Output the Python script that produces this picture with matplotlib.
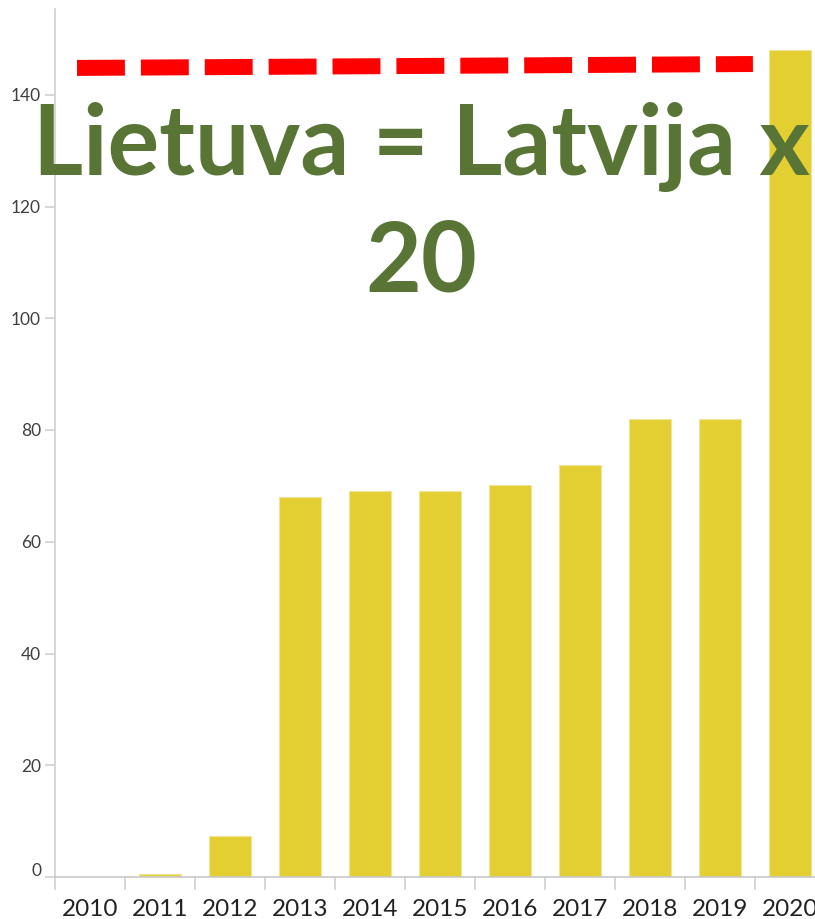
import matplotlib
matplotlib.use("Agg")
import matplotlib.pyplot as plt
import matplotlib.transforms as mtransforms
import numpy as np

years = ["2010", "2011", "2012", "2013", "2014", "2015", "2016", "2017", "2018", "2019", "2020"]
values = [0, 0.5, 7.4, 68.0, 69.1, 69.1, 70.1, 73.7, 82.0, 82.0, 148.0]
yticks = [0, 20, 40, 60, 80, 100, 120, 140]
line_x = [-0.186, 9.47]
line_y = [144.8, 145.5]
title = "Lietuva = Latvija x\n20"

W, H = 815, 919
fig = plt.figure(figsize=(W / 100, H / 100), dpi=100)
ax = fig.add_axes([55 / W, 42 / H, 770 / W, (877 - 9) / H])

x = np.arange(len(years))
ax.bar(x, values, width=0.59, color="#E4CF33", edgecolor="#EFE39A", linewidth=0.8, zorder=2)

ax.plot(line_x, line_y, color="#FF0000", linewidth=11.5, solid_capstyle="butt",
        dash_capstyle="butt", dashes=(3, 1), zorder=3)

ax.set_xlim(-0.5, len(years) - 0.5)
ax.set_ylim(0, (877 - 9) / 5.5875)

ax.set_yticks(yticks)
ax.set_yticklabels([str(v) for v in yticks], fontfamily="Lato", fontsize=12.5, color="#404040")
ax.tick_params(axis="y", length=7, width=1.2, color="#D0D0D0", pad=3)
# first label sits a little above the baseline
lbl0 = ax.get_yticklabels()[0]
lbl0.set_transform(lbl0.get_transform() + mtransforms.ScaledTranslation(0, 8 / 100, fig.dpi_scale_trans))

ax.set_xticks(x)
ax.set_xticklabels(years, fontfamily="Lato", fontsize=17.5, color="#222222")
ax.tick_params(axis="x", which="major", length=0, pad=16)
ax.set_xticks(np.arange(-0.5, len(years), 1.0), minor=True)
ax.tick_params(axis="x", which="minor", length=9, width=1.2, color="#D0D0D0", direction="out")

for s in ["top", "right"]:
    ax.spines[s].set_visible(False)
ax.spines["left"].set_color("#D0D0D0")
ax.spines["left"].set_linewidth(1.2)
ax.spines["bottom"].set_color("#C8C8C8")
ax.spines["bottom"].set_linewidth(1.2)
ax.spines["bottom"].set_linestyle((0, (1, 1)))

fig.text(421 / W, 1 - 291 / H, title, ha="center", va="baseline", multialignment="center",
         fontfamily="Lato", fontweight="bold", fontsize=69.5, color="#587536",
         linespacing=1.36, zorder=10)

fig.savefig("out.png", dpi=100)
